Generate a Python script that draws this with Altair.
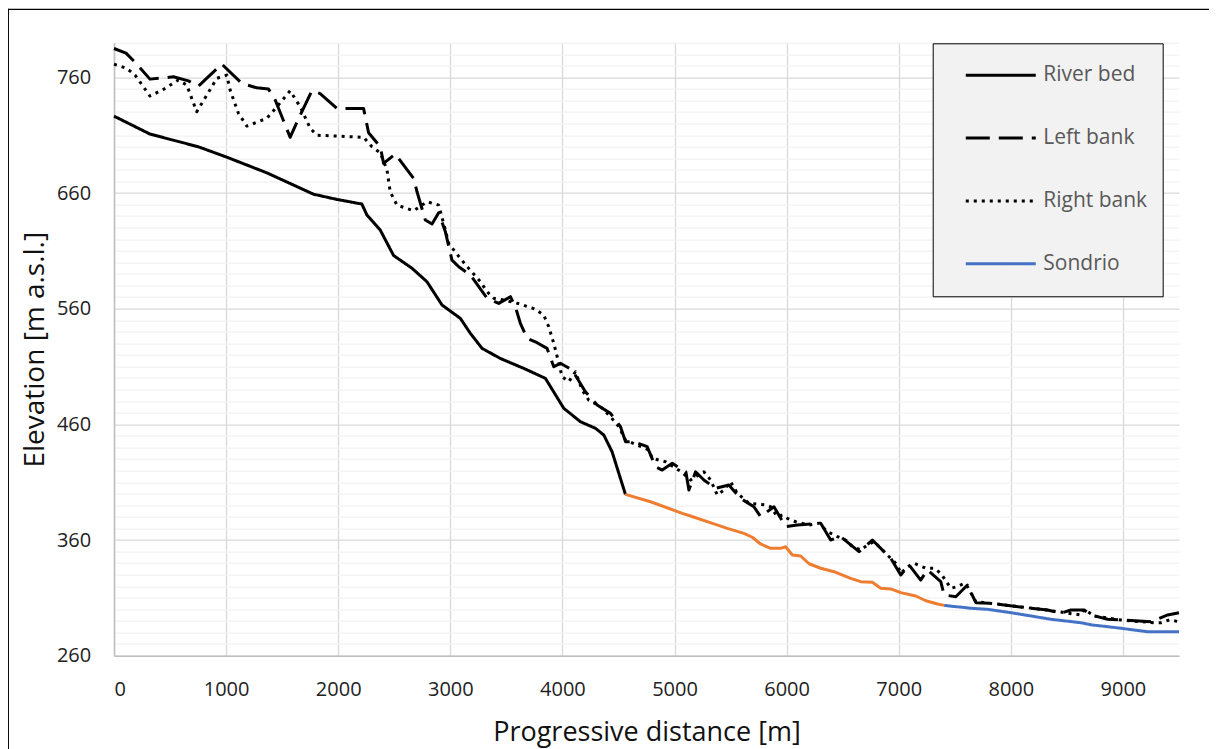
import altair as alt
import pandas as pd

# ---- data (distance [m], elevation [m a.s.l.]) ----
river_bed = [
    (0, 726.5), (321, 711), (753, 700), (1006, 691), (1363, 677.5), (1780, 659),
    (1988, 654.5), (2211, 650.5), (2256, 641), (2375, 628), (2494, 606), (2658, 595),
    (2792, 583.3), (2926, 563.2), (3089, 551.7), (3179, 538.7), (3283, 525.7),
    (3446, 517), (3655, 508.4), (3848, 499.8), (4012, 473.9), (4161, 462.3),
    (4295, 456.6), (4369, 450.8), (4443, 436.3), (4562, 399.5),
]

river_bed_middle = [
    (4562, 399.5), (4786, 393.1), (5069, 383.1), (5143, 380.8), (5351, 373.9),
    (5471, 370.1), (5619, 365.8), (5694, 362.4), (5768, 356.6), (5857, 352.8),
    (5946, 352.8), (5991, 354.2), (6051, 347.1), (6125, 346.2), (6200, 339.5),
    (6304, 335.6), (6423, 332.6), (6571, 326.9), (6661, 324), (6765, 323.5),
    (6839, 318.3), (6929, 317.7), (7018, 314.5), (7152, 311.6), (7242, 307.5),
    (7346, 304.7), (7405, 303.5),
]

sondrio = [
    (7405, 303.5), (7494, 302.5), (7554, 302), (7643, 301), (7792, 300.1),
    (8000, 297.2), (8357, 291.5), (8625, 288.5), (8729, 286.5), (8864, 285.1),
    (8982, 283.7), (9101, 282.2), (9220, 280.7), (9500, 280.7),
]

left_bank = [
    (0, 785), (107, 781), (203, 771.5), (321, 758.5), (530, 760.5), (664, 757),
    (753, 752.5), (961, 771.5), (1140, 754.8), (1274, 751), (1378, 750),
    (1438, 740.4), (1571, 708.2), (1661, 727.4), (1765, 748.4), (1839, 746),
    (1988, 733.2), (2226, 733.2), (2271, 712.1), (2375, 700), (2405, 685.7),
    (2509, 693.7), (2673, 672.7), (2703, 661.1), (2777, 636.7), (2837, 633.2),
    (2896, 643), (2956, 626.5), (3015, 602), (3075, 596.3), (3179, 589.1),
    (3328, 569), (3432, 564.6), (3536, 570.4), (3580, 561.7), (3625, 547.4),
    (3685, 534.4), (3774, 530.6), (3863, 525.7), (3923, 509.8), (3982, 512.8),
    (4087, 507), (4205, 488.2), (4310, 476.7), (4429, 469.5), (4518, 458),
    (4563, 445), (4637, 445), (4756, 440.7), (4830, 423.4), (4890, 420.5),
    (4980, 426.3), (5101, 419), (5128, 403.2), (5188, 419), (5262, 411.9),
    (5366, 404.7), (5485, 407.6), (5589, 396), (5708, 388.8), (5768, 380.2),
    (5887, 388.8), (5991, 371.5), (6096, 373), (6304, 374.5), (6393, 360),
    (6482, 362.9), (6646, 349.9), (6765, 360), (6929, 344.2), (7018, 329.8),
    (7093, 338.4), (7196, 325.4), (7256, 334.1), (7375, 324), (7405, 312.5),
    (7509, 311), (7613, 321.1), (7688, 305.8), (7822, 305.3), (8179, 301),
    (8328, 299.5), (8446, 296.7), (8536, 299.5), (8655, 299.5), (8714, 295.2),
    (8864, 291.5), (9250, 289.4), (9399, 295.2), (9500, 297.2),
]

right_bank = [
    (0, 771.5), (113, 767.8), (188, 762), (321, 743.9), (440, 749.6), (574, 757.7),
    (649, 753.4), (738, 730.3), (828, 744.7), (917, 759.2), (1006, 762), (1036, 749),
    (1110, 728.9), (1185, 717.9), (1363, 724.6), (1453, 734.6), (1571, 748.4),
    (1661, 734.6), (1750, 716), (1810, 710), (2226, 708.2), (2301, 700),
    (2375, 694.8), (2435, 680), (2464, 661), (2524, 649.6), (2673, 644.7),
    (2792, 652.5), (2896, 649.6), (2956, 628), (2985, 616.5), (3089, 603.5),
    (3164, 594.9), (3268, 583.3), (3328, 574.7), (3387, 569), (3477, 567.5),
    (3625, 564), (3759, 559.5), (3833, 554.5), (3878, 544.4), (3923, 530),
    (3953, 518.5), (3997, 501.2), (4057, 496.9), (4116, 505.5), (4176, 489.7),
    (4235, 481), (4340, 475.3), (4429, 466.6), (4503, 458), (4563, 446.5),
    (4771, 437.8), (4801, 430.6), (4920, 427.7), (5060, 419), (5143, 411.9),
    (5262, 419), (5322, 411.9), (5381, 398.9), (5441, 403.2), (5500, 410.4),
    (5560, 400.4), (5664, 391.7), (5813, 390.3), (5857, 388.8), (5917, 380.2),
    (5962, 381.6), (6006, 378.8), (6081, 375.8), (6200, 373), (6289, 374.5),
    (6364, 367.2), (6454, 362.9), (6527, 360), (6587, 354.2), (6661, 351.4),
    (6721, 355.7), (6780, 358.6), (6855, 351.4), (6914, 345.6), (6989, 338.4),
    (7018, 331.2), (7078, 336.9), (7137, 339.9), (7242, 335.6), (7316, 335.6),
    (7375, 331.2), (7435, 322.6), (7465, 318.3), (7524, 319.7), (7584, 322.6),
    (7613, 319.7), (7688, 306.7), (7896, 304.4), (8268, 300.1), (8625, 295.2),
    (8655, 300.1), (8744, 294.3), (8982, 290.9), (9161, 289.4), (9280, 288.5),
    (9339, 288.5), (9414, 290.9), (9500, 289.4),
]

series_names = ["River bed", "Left bank", "Right bank", "Sondrio"]
series_colors = ["#000000", "#000000", "#000000", "#4472C4"]
series_dashes = [[1, 0], [24, 9], [3, 5], [1, 0]]
x_ticks = [0, 1000, 2000, 3000, 4000, 5000, 6000, 7000, 8000, 9000]
y_ticks = list(range(260, 800, 10))

rows = []
for name, pts in zip(series_names, [river_bed, left_bank, right_bank, sondrio]):
    for d, e in pts:
        rows.append({"series": name, "distance": d, "elevation": e})
df = pd.DataFrame(rows)
mid_df = pd.DataFrame(river_bed_middle, columns=["distance", "elevation"])

FONT = "Open Sans"

x_enc = alt.X(
    "distance:Q",
    scale=alt.Scale(domain=[0, 9500], nice=False, zero=False),
    axis=alt.Axis(
        values=x_ticks, format="d", title="Progressive distance [m]", ticks=False,
        labelPadding=23.5, labelFontSize=20, labelFont=FONT, labelColor="#222222",
        titleFont=FONT, titleFontSize=27, titleFontWeight="normal", titleColor="#111111",
        titleX=532.5, titleY=84.5, titleBaseline="alphabetic", titleAlign="center",
        gridColor="#d9d9d9", gridWidth=1.3, domainColor="#bfbfbf", domainWidth=1.5,
        labelOverlap=False,
    ),
)
y_enc = alt.Y(
    "elevation:Q",
    scale=alt.Scale(domain=[260, 790], nice=False, zero=False),
    axis=alt.Axis(
        values=y_ticks, title="Elevation [m a.s.l.]", ticks=False,
        labelExpr="datum.value % 100 === 60 ? datum.label : ''",
        labelPadding=23.3, labelFontSize=20, labelFont=FONT, labelColor="#222222",
        labelOverlap=False, labelBound=False,
        titleFont=FONT, titleFontSize=28, titleFontWeight="normal", titleColor="#111111",
        titleX=-71, titleY=306.5, titleBaseline="alphabetic", titleAlign="center",
        titleAngle=270,
        gridColor={"condition": {"test": "datum.value % 100 === 60", "value": "#d9d9d9"},
                   "value": "#f2f2f2"},
        gridWidth=1.3, domainColor="#bfbfbf", domainWidth=1.5,
    ),
)

legend = alt.Legend(
    title=None, orient="none", legendX=818.7, legendY=0.6, direction="vertical",
    fillColor="#f2f2f2", strokeColor="#000000", padding=15,
    symbolType="stroke", symbolSize=4900, symbolStrokeWidth=3, symbolOffset=16.6,
    labelOffset=6, labelFont=FONT, labelFontSize=21, labelColor="#595959",
    labelLimit=300, clipHeight=34, rowPadding=28.8,
)

frame_df = pd.DataFrame({"k": [0]})
frame_top = alt.Chart(frame_df).mark_rule(stroke="#000000", strokeWidth=1.3).encode(
    x=alt.value(-105.7), x2=alt.value(1400), y=alt.value(-33.4)
)
frame_left = alt.Chart(frame_df).mark_rule(stroke="#000000", strokeWidth=1.3).encode(
    x=alt.value(-105.7), y=alt.value(-34), y2=alt.value(900)
)

lines = alt.Chart(df).mark_line(strokeWidth=3, strokeJoin="round").encode(
    x=x_enc,
    y=y_enc,
    color=alt.Color("series:N", sort=series_names,
                    scale=alt.Scale(domain=series_names, range=series_colors),
                    legend=legend),
    strokeDash=alt.StrokeDash("series:N", sort=series_names,
                              scale=alt.Scale(domain=series_names, range=series_dashes),
                              legend=legend),
    detail="series:N",
)

middle = alt.Chart(mid_df).mark_line(strokeWidth=3, strokeJoin="round", color="#ED7D31").encode(
    x=x_enc, y=y_enc
)

chart = alt.layer(frame_top, frame_left, lines, middle).properties(
    width=1065, height=613,
    padding={"left": 106, "top": 34.7, "right": 30, "bottom": 93},
    autosize=alt.AutoSizeParams(type="none"),
    background="#ffffff",
).configure_view(stroke=None)

chart.save("out.html", embed_options={"renderer": "svg", "actions": False})
